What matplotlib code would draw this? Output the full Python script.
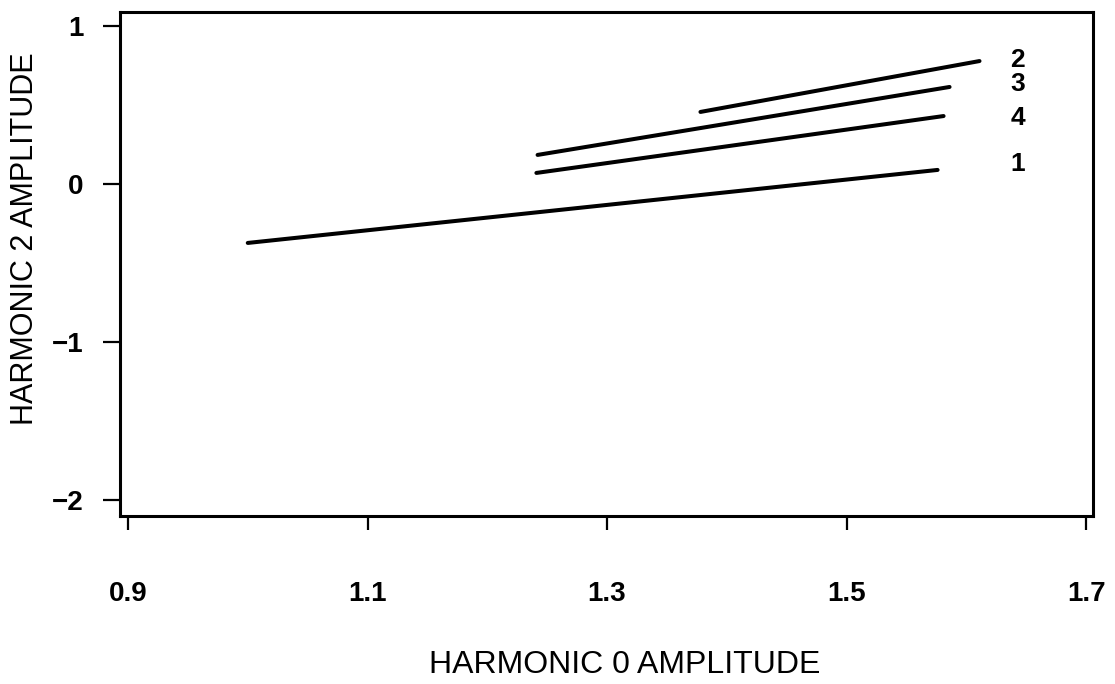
import numpy as np
import matplotlib
matplotlib.use('Agg')
import matplotlib.pyplot as plt

# Curvas: extremos (armónico 0, armónico 2) de cada segmento
etiquetas = ['1', '2', '3', '4']
x_inicio = [1.000, 1.378, 1.242, 1.241]
x_fin = [1.576, 1.611, 1.586, 1.581]
y_inicio = [-0.373, 0.456, 0.184, 0.070]
y_fin = [0.089, 0.778, 0.614, 0.430]

# posición vertical de los rótulos a la derecha
y_rotulo = [0.127, 0.785, 0.633, 0.418]
x_rotulo = 1.643

xticks = [0.9, 1.1, 1.3, 1.5, 1.7]
yticks = [-2, -1, 0, 1]

plt.rcParams['font.family'] = ['Liberation Sans', 'DejaVu Sans']

fig = plt.figure(figsize=(11.15, 6.84), dpi=100)
ax = fig.add_axes([0.1076, 0.2456, 0.8727, 0.7369])

for i in range(len(etiquetas)):
    ax.plot([x_inicio[i], x_fin[i]], [y_inicio[i], y_fin[i]],
            color='black', linewidth=2.9, solid_capstyle='round')
    ax.text(x_rotulo, y_rotulo[i], etiquetas[i], fontsize=19,
            fontweight='bold', ha='center', va='center')

ax.set_xlim(0.8933, 1.7058)
ax.set_ylim(-2.101, 1.0886)
ax.set_xticks(xticks)
ax.set_yticks(yticks)
ax.set_xticklabels([f'{v:.1f}' for v in xticks], fontsize=20, fontweight='bold')
ax.set_yticklabels(['\u22122', '\u22121', '0', '1'], fontsize=20, fontweight='bold')
ax.tick_params(axis='x', direction='out', length=10, width=1.6, pad=37)
ax.tick_params(axis='y', direction='out', length=12, width=1.6, pad=14)

for s in ax.spines.values():
    s.set_linewidth(2.2)

ax.set_xlabel('HARMONIC 0 AMPLITUDE', fontsize=23)
ax.set_ylabel('HARMONIC 2 AMPLITUDE', fontsize=22)
ax.xaxis.set_label_coords(0.519, -0.266)
ax.yaxis.set_label_coords(-0.082, 0.55)

plt.savefig('out.png', dpi=100)
plt.close()
